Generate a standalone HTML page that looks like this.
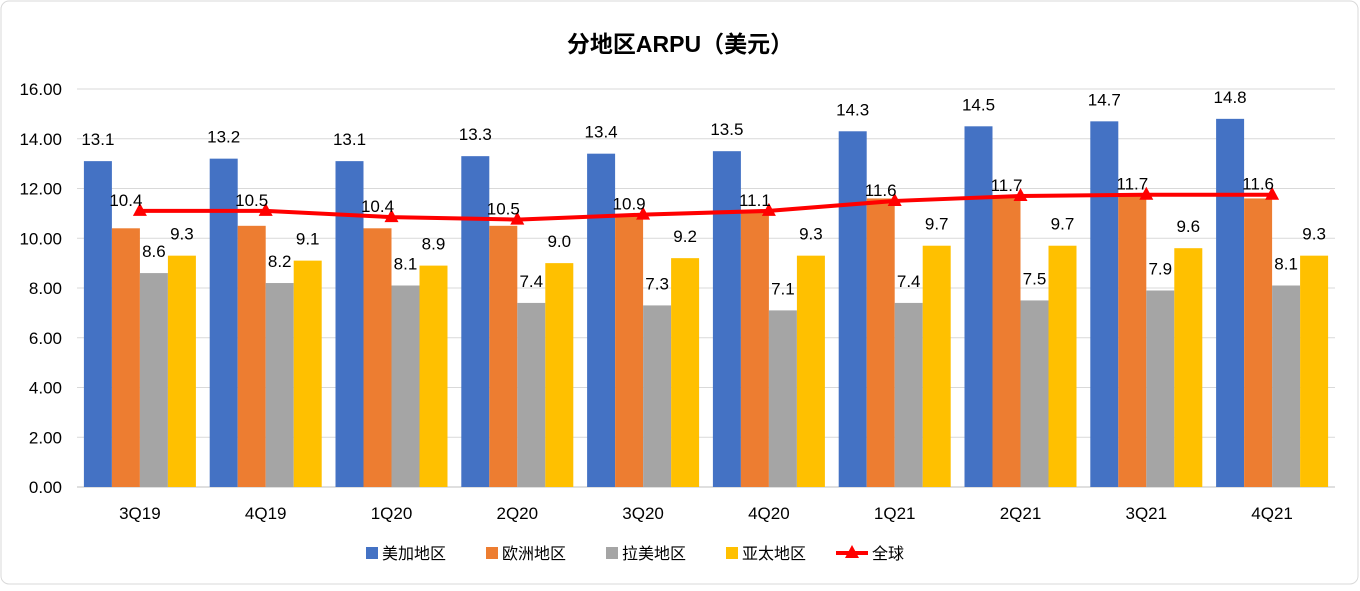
<!DOCTYPE html>
<html><head><meta charset="utf-8"><style>
body{margin:0;background:#fff;font-family:"Liberation Sans","Noto Sans CJK SC",sans-serif}
#wrap{position:relative;width:1360px;height:586px}
</style></head><body>
<div id="wrap">
<svg id="svg" width="1360" height="586" xmlns="http://www.w3.org/2000/svg">
<rect x="1" y="1" width="1357" height="583" rx="8" fill="#fff" stroke="#d9d9d9"/>
<text x="680" y="52" text-anchor="middle" font-size="23" font-weight="bold" font-family="Liberation Sans,Noto Sans CJK SC,sans-serif">分地区ARPU（美元）</text>
<g id="grid"></g><g id="bars"></g><g id="line"></g><g id="labels"></g><g id="legend"></g>
</svg>
</div>
<script>
const categories=["3Q19","4Q19","1Q20","2Q20","3Q20","4Q20","1Q21","2Q21","3Q21","4Q21"];
const seriesNames=["美加地区","欧洲地区","拉美地区","亚太地区"];
const usCanada=[13.1,13.2,13.1,13.3,13.4,13.5,14.3,14.5,14.7,14.8];
const europe=[10.4,10.5,10.4,10.5,10.9,11.1,11.6,11.7,11.7,11.6];
const latam=[8.6,8.2,8.1,7.4,7.3,7.1,7.4,7.5,7.9,8.1];
const apac=[9.3,9.1,8.9,9.0,9.2,9.3,9.7,9.7,9.6,9.3];
const globalVals=[11.1,11.1,10.85,10.75,10.95,11.1,11.5,11.7,11.75,11.75];
const yTicks=[0,2,4,6,8,10,12,14,16];
const colors=["#4472c4","#ed7d31","#a5a5a5","#ffc000"];
const NS="http://www.w3.org/2000/svg";
const L=77,R=1335,T=89,B=487,ymax=16;
const step=(R-L)/categories.length;
const y=v=>B-(v/ymax)*(B-T);
const xc=i=>L+step*(i+0.5);
function mk(t,a,p){const e=document.createElementNS(NS,t);for(const k in a)e.setAttribute(k,a[k]);p.appendChild(e);return e;}
const g=document.getElementById('grid');
yTicks.forEach(v=>{
 const ln=mk('line',{x1:L,x2:R,y1:y(v),y2:y(v),stroke:v===0?'#bfbfbf':'#d9d9d9','stroke-width':1},g);
 
 
 const t=mk('text',{x:62,y:y(v)+6,'text-anchor':'end','font-size':17,fill:'#000'},g);
 t.textContent=v.toFixed(2);
 
 
});
const bw=28;
const data=[usCanada,europe,latam,apac];
const bg=document.getElementById('bars'),lg=document.getElementById('labels');
categories.forEach((c,i)=>{
 data.forEach((s,k)=>{
  const x=xc(i)-2*bw+k*bw;
  const r=mk('rect',{x:x,y:y(s[i]),width:bw,height:B-y(s[i]),fill:colors[k]},bg);
  
  
  let ly=y(s[i])-16;
  if(k===1) ly=y(globalVals[i])-5;
  const t=mk('text',{x:x+bw/2,y:ly,'text-anchor':'middle','font-size':17,fill:'#000'},lg);
  t.textContent=s[i].toFixed(1);
  
  
 });
 const t=mk('text',{x:xc(i),y:B+32,'text-anchor':'middle','font-size':17,fill:'#000'},lg);
 t.textContent=c;
 
 
});
const lgG=document.getElementById('line');
const pts=globalVals.map((v,i)=>xc(i)+','+y(v)).join(' ');
const pl=mk('polyline',{points:pts,fill:'none',stroke:'#ff0000','stroke-width':4,'stroke-linejoin':'round'},lgG);


globalVals.forEach((v,i)=>{
 const cx=xc(i),cy=y(v);
 const m=mk('polygon',{points:`${cx},${cy-8} ${cx-7},${cy+5} ${cx+7},${cy+5}`,fill:'#ff0000'},lgG);
 
 
});
const leg=document.getElementById('legend');
const items=[...seriesNames,"全球"];
const lx=[366,486,606,726,846];
items.forEach((n,k)=>{
 if(k<4){const r=mk('rect',{x:lx[k],y:547,width:12,height:12,fill:colors[k]},leg);
  
  }
 else{const l=mk('line',{x1:lx[k]-10,x2:lx[k]+22,y1:553,y2:553,stroke:'#ff0000','stroke-width':4},leg);
  
  
  mk('polygon',{points:`${lx[k]+6},545 ${lx[k]-1},558 ${lx[k]+13},558`,fill:'#ff0000'},leg);}
 const t=mk('text',{x:lx[k]+(k<4?16:26),y:559,'font-size':16,fill:'#000'},leg);
 t.textContent=n;
 
 
});
</script>
</body></html>
